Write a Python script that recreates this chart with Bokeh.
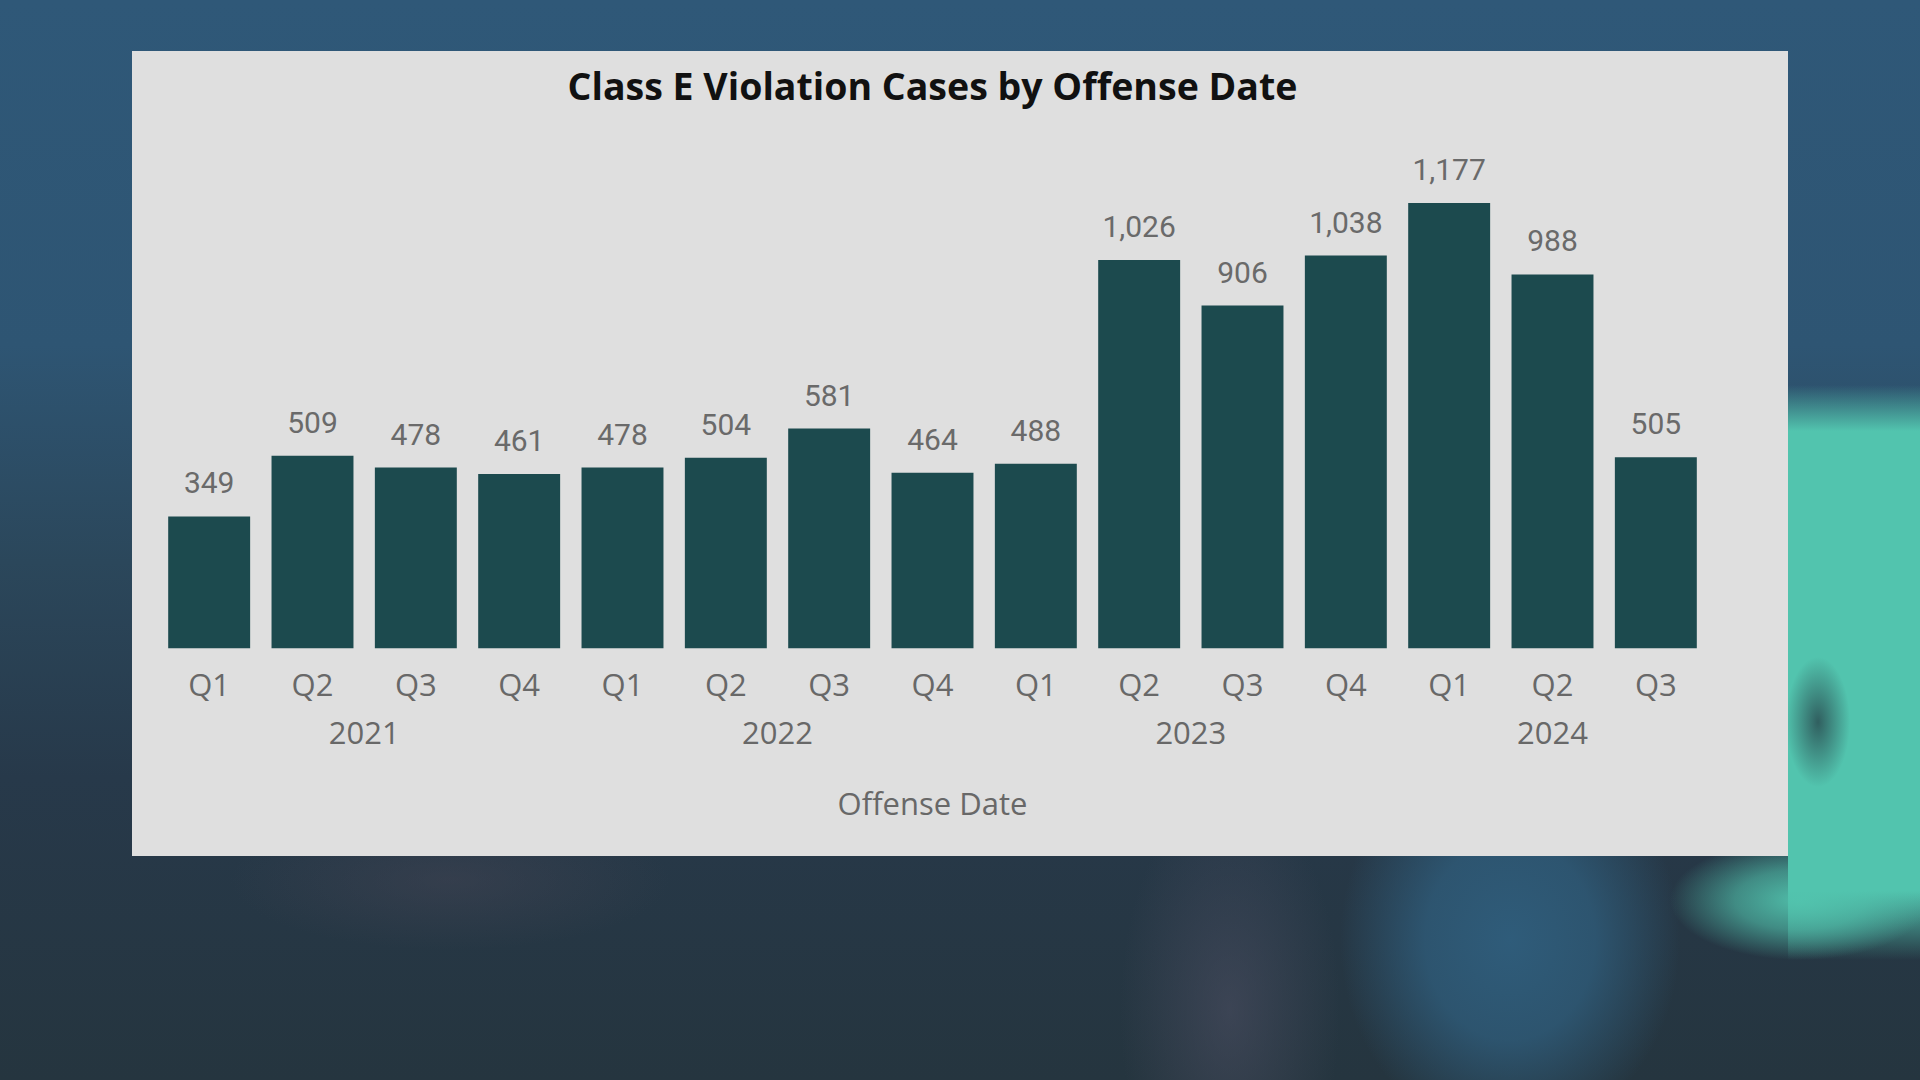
from bokeh.plotting import figure
from bokeh.models import FactorRange, Range1d, ColumnDataSource, LabelSet, Spacer
from bokeh.layouts import column, row
from bokeh.core.properties import value
from bokeh.embed import file_html
from bokeh.resources import INLINE

years = ["2021", "2021", "2021", "2021",
         "2022", "2022", "2022", "2022",
         "2023", "2023", "2023", "2023",
         "2024", "2024", "2024"]
quarters = ["Q1", "Q2", "Q3", "Q4",
            "Q1", "Q2", "Q3", "Q4",
            "Q1", "Q2", "Q3", "Q4",
            "Q1", "Q2", "Q3"]
cases = [349, 509, 478, 461, 478, 504, 581, 464, 488, 1026, 906, 1038, 1177, 988, 505]

factors = list(zip(years, quarters))
labels = [f"{v:,}" for v in cases]

source = ColumnDataSource(data=dict(x=factors, cases=cases, labels=labels))

PANEL = "#dfdfdf"
BAR = "#1c4a4e"
TXT = "#686868"

p = figure(
    width=1656, height=805,
    x_range=FactorRange(*factors, factor_padding=0, group_padding=0, range_padding=0),
    y_range=Range1d(0, 1408),
    title="Class E Violation Cases by Offense Date",
    output_backend="svg", toolbar_location=None,
    min_border_left=25, min_border_right=81, min_border_top=64, min_border_bottom=208,
    background_fill_color=PANEL, border_fill_color=PANEL,
    styles={"background-color": PANEL},
)
p.outline_line_color = None

p.vbar(x="x", top="cases", width=0.793, source=source, fill_color=BAR, line_color=None)

p.add_layout(LabelSet(x="x", y="cases", text="labels", source=source,
                      text_align="center", text_baseline="alphabetic", y_offset=23,
                      text_font=value("Roboto"), text_font_size=value("30px"),
                      text_color="#6a6a6a"))

p.title.text_font = "Open Sans"
p.title.text_font_size = "37.5px"
p.title.text_font_style = "bold"
p.title.text_color = "#111111"
p.title.align = "center"

p.yaxis.visible = False
p.xgrid.visible = False
p.ygrid.visible = False

ax = p.xaxis[0]
ax.axis_line_color = None
ax.major_tick_line_color = None
ax.minor_tick_line_color = None
ax.major_tick_out = 0
ax.major_tick_in = 0
ax.separator_line_color = None
ax.major_label_standoff = 14
ax.major_label_text_font = "Open Sans"
ax.major_label_text_font_size = "31px"
ax.major_label_text_color = TXT
ax.group_text_font = "Open Sans"
ax.group_text_font_size = "31px"
ax.group_text_font_style = "normal"
ax.group_text_color = TXT
ax.axis_label = "Offense Date"
ax.axis_label_text_font = "Open Sans"
ax.axis_label_text_font_size = "31px"
ax.axis_label_text_font_style = "normal"
ax.axis_label_text_color = TXT
ax.axis_label_standoff = 35

bg = ("radial-gradient(ellipse 32px 65px at 1818px 722px, rgba(34,52,62,0.7) 0%, rgba(34,52,62,0) 100%), "
      "radial-gradient(ellipse 130px 60px at 1800px 900px, rgba(82,196,174,0.95) 0%, rgba(82,196,174,0.6) 50%, rgba(82,196,174,0) 100%), "
      "linear-gradient(180deg, rgba(82,196,174,0) 0%, rgba(82,196,174,1) 8%, rgba(82,196,174,1) 88%, rgba(82,196,174,0) 100%) 1788px 385px / 132px 575px no-repeat, "
      "radial-gradient(ellipse 170px 200px at 1510px 940px, rgba(47,92,122,1) 0%, rgba(47,92,122,0.8) 50%, rgba(47,92,122,0) 100%), "
      "radial-gradient(ellipse 110px 220px at 1230px 1010px, rgba(78,80,100,0.55) 0%, rgba(78,80,100,0) 100%), "
      "radial-gradient(ellipse 220px 70px at 450px 880px, rgba(70,70,85,0.45) 0%, rgba(70,70,85,0) 100%), "
      "linear-gradient(180deg, #2f5878 0%, #2e5573 32%, #2b475b 52%, #27394a 72%, #25353f 100%)")

layout = column(
    Spacer(width=1920, height=51),
    row(Spacer(width=132, height=805), p, Spacer(width=132, height=805)),
    Spacer(width=1920, height=224),
    styles={"background": bg},
)

open("out.html", "w").write(file_html(layout, INLINE))
